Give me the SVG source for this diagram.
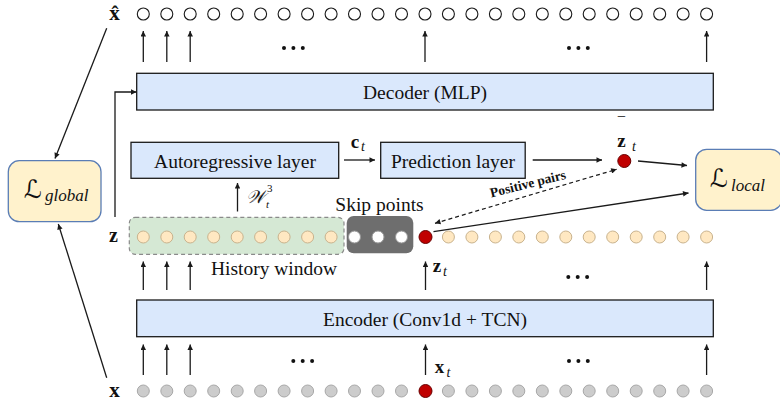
<svg xmlns="http://www.w3.org/2000/svg" width="780" height="404" viewBox="0 0 780 404" font-family="'Liberation Serif', 'Times New Roman', serif">
  <style>
    text { font-family: 'Liberation Serif', 'Times New Roman', serif; fill: #111; }
    .big { font-size: 19.5px; }
    .math { font-weight: bold; }
    .sub { font-style: italic; }
    text.cal { font-family: 'DejaVu Serif', 'DejaVu Sans', serif; font-style: italic; }
    .layer { fill: #dae8fc; stroke: #1a1a1a; stroke-width: 1.3; }
    .loss { fill: #fff2cc; stroke: #5a7db5; stroke-width: 1.3; }
    .out { fill: #ffffff; stroke: #1a1a1a; stroke-width: 1.1; }
    .lat { fill: #ffe8c2; stroke: #c9b38e; stroke-width: 1; }
    .inp { fill: #cccccc; stroke: #a8a8a8; stroke-width: 1; }
    .skip { fill: #ffffff; stroke: #999; stroke-width: 1; }
    .hot { fill: #c00000; stroke: #6a0000; stroke-width: 1; }
    .arr { stroke: #1a1a1a; stroke-width: 1.3; fill: none; marker-end: url(#ah); }
    .dot { fill: #111; }
  </style>
  <defs>
    <marker id="ah" viewBox="0 0 10 10" refX="10" refY="5" markerWidth="7" markerHeight="5.5" orient="auto-start-reverse" markerUnits="userSpaceOnUse">
      <path d="M0,0 L10,5 L0,10 z" fill="#1a1a1a"/>
    </marker>
  </defs>

  <!-- reconstructed output row x-hat -->
  <g id="row-xhat">
    <text class="math" x="114.5" y="20" font-size="21" text-anchor="middle">x̂</text>
    <g class="out">
      <circle cx="143.3" cy="14" r="6"/><circle cx="166.8" cy="14" r="6"/><circle cx="190.2" cy="14" r="6"/>
      <circle cx="213.7" cy="14" r="6"/><circle cx="237.2" cy="14" r="6"/><circle cx="260.6" cy="14" r="6"/>
      <circle cx="284.1" cy="14" r="6"/><circle cx="307.6" cy="14" r="6"/><circle cx="331.1" cy="14" r="6"/>
      <circle cx="354.5" cy="14" r="6"/><circle cx="378.0" cy="14" r="6"/><circle cx="401.5" cy="14" r="6"/>
      <circle cx="425.0" cy="14" r="6"/><circle cx="448.4" cy="14" r="6"/><circle cx="471.9" cy="14" r="6"/>
      <circle cx="495.4" cy="14" r="6"/><circle cx="518.8" cy="14" r="6"/><circle cx="542.3" cy="14" r="6"/>
      <circle cx="565.8" cy="14" r="6"/><circle cx="589.2" cy="14" r="6"/><circle cx="612.7" cy="14" r="6"/>
      <circle cx="636.2" cy="14" r="6"/><circle cx="659.7" cy="14" r="6"/><circle cx="683.1" cy="14" r="6"/>
      <circle cx="706.6" cy="14" r="6"/>
    </g>
    <circle class="dot" cx="284" cy="48" r="2"/><circle class="dot" cx="293.4" cy="48" r="2"/><circle class="dot" cx="302.8" cy="48" r="2"/>
    <circle class="dot" cx="569" cy="48" r="2"/><circle class="dot" cx="578.4" cy="48" r="2"/><circle class="dot" cx="587.8" cy="48" r="2"/>
  </g>

  <!-- decoder -->
  <g id="decoder">
    <rect class="layer" x="136.7" y="73.3" width="576.6" height="36.7"/>
    <text class="big" x="425" y="99" text-anchor="middle">Decoder (MLP)</text>
  </g>

  <!-- autoregressive layer -->
  <g id="autoregressive">
    <rect class="layer" x="131" y="142.3" width="207.7" height="36"/>
    <text class="big" x="235" y="167.5" text-anchor="middle">Autoregressive layer</text>
  </g>

  <!-- prediction layer -->
  <g id="prediction">
    <rect class="layer" x="380.7" y="142.3" width="144.5" height="36"/>
    <text class="big" x="453" y="167.5" text-anchor="middle">Prediction layer</text>
  </g>

  <!-- predicted latent z-bar_t -->
  <g id="zbar">
    <circle class="hot" cx="624.3" cy="161" r="6.5"/>
    <text class="math" x="621.5" y="147" font-size="19" text-anchor="middle">z</text>
    <text class="math" x="621.5" y="131" font-size="19" text-anchor="middle">‾</text>
    <text class="sub" x="632" y="150.5" font-size="14">t</text>
  </g>

  <!-- global loss -->
  <g id="loss-global">
    <rect class="loss" x="8.3" y="160.7" width="92.7" height="61" rx="11"/>
    <text class="cal" x="24" y="198" font-size="25">ℒ</text>
    <text class="sub" x="45" y="201" font-size="17">global</text>
  </g>

  <!-- local loss -->
  <g id="loss-local">
    <rect class="loss" x="695.7" y="149.3" width="86" height="61" rx="11"/>
    <text class="cal" x="710" y="187" font-size="25">ℒ</text>
    <text class="sub" x="731" y="191" font-size="17">local</text>
  </g>

  <!-- latent row z -->
  <g id="row-z">
    <text class="math" x="113.5" y="242" font-size="20" text-anchor="middle">z</text>
    <rect x="129.3" y="217.3" width="214.7" height="37" rx="6" fill="#d5e8d4" stroke="#8a8a8a" stroke-width="1.2" stroke-dasharray="4 3"/>
    <rect x="346.7" y="216" width="66.6" height="37.3" rx="7" fill="#6e6e6e"/>
    <g class="lat">
      <circle cx="143.3" cy="237" r="6"/><circle cx="166.8" cy="237" r="6"/><circle cx="190.2" cy="237" r="6"/>
      <circle cx="213.7" cy="237" r="6"/><circle cx="237.2" cy="237" r="6"/><circle cx="260.6" cy="237" r="6"/>
      <circle cx="284.1" cy="237" r="6"/><circle cx="307.6" cy="237" r="6"/><circle cx="331.1" cy="237" r="6"/>
      <circle cx="448.4" cy="237" r="6"/><circle cx="471.9" cy="237" r="6"/><circle cx="495.4" cy="237" r="6"/>
      <circle cx="518.8" cy="237" r="6"/><circle cx="542.3" cy="237" r="6"/><circle cx="565.8" cy="237" r="6"/>
      <circle cx="589.2" cy="237" r="6"/><circle cx="612.7" cy="237" r="6"/><circle cx="636.2" cy="237" r="6"/>
      <circle cx="659.7" cy="237" r="6"/><circle cx="683.1" cy="237" r="6"/><circle cx="706.6" cy="237" r="6"/>
    </g>
    <g class="skip">
      <circle cx="354.5" cy="237" r="6"/><circle cx="378.0" cy="237" r="6"/><circle cx="401.5" cy="237" r="6"/>
    </g>
    <circle class="hot" cx="425.5" cy="237" r="6.5"/>
    <text class="big" x="379.5" y="210.5" text-anchor="middle">Skip points</text>
    <text class="big" x="274" y="274.5" text-anchor="middle">History window</text>
    <text class="math" x="437" y="272" font-size="19" text-anchor="middle">z</text>
    <text class="sub" x="443" y="275.5" font-size="14">t</text>
    <circle class="dot" cx="568.3" cy="277" r="2"/><circle class="dot" cx="577.7" cy="277" r="2"/><circle class="dot" cx="587.1" cy="277" r="2"/>
  </g>

  <!-- encoder -->
  <g id="encoder">
    <rect class="layer" x="136.7" y="300" width="576.6" height="36.7"/>
    <text class="big" x="425" y="325.5" text-anchor="middle">Encoder (Conv1d + TCN)</text>
  </g>

  <!-- input row x -->
  <g id="row-x">
    <text class="math" x="114.5" y="397" font-size="21" text-anchor="middle">x</text>
    <g class="inp">
      <circle cx="143.3" cy="391" r="6"/><circle cx="166.8" cy="391" r="6"/><circle cx="190.2" cy="391" r="6"/>
      <circle cx="213.7" cy="391" r="6"/><circle cx="237.2" cy="391" r="6"/><circle cx="260.6" cy="391" r="6"/>
      <circle cx="284.1" cy="391" r="6"/><circle cx="307.6" cy="391" r="6"/><circle cx="331.1" cy="391" r="6"/>
      <circle cx="354.5" cy="391" r="6"/><circle cx="378.0" cy="391" r="6"/><circle cx="401.5" cy="391" r="6"/>
      <circle cx="448.4" cy="391" r="6"/><circle cx="471.9" cy="391" r="6"/>
      <circle cx="495.4" cy="391" r="6"/><circle cx="518.8" cy="391" r="6"/><circle cx="542.3" cy="391" r="6"/>
      <circle cx="565.8" cy="391" r="6"/><circle cx="589.2" cy="391" r="6"/><circle cx="612.7" cy="391" r="6"/>
      <circle cx="636.2" cy="391" r="6"/><circle cx="659.7" cy="391" r="6"/><circle cx="683.1" cy="391" r="6"/>
      <circle cx="706.6" cy="391" r="6"/>
    </g>
    <circle class="hot" cx="425.5" cy="391" r="6.5"/>
    <text class="math" x="439.5" y="373" font-size="19" text-anchor="middle">x</text>
    <text class="sub" x="446.5" y="376.5" font-size="14">t</text>
    <circle class="dot" cx="293.3" cy="361" r="2"/><circle class="dot" cx="302.7" cy="361" r="2"/><circle class="dot" cx="312.1" cy="361" r="2"/>
    <circle class="dot" cx="569" cy="361" r="2"/><circle class="dot" cx="578.4" cy="361" r="2"/><circle class="dot" cx="587.8" cy="361" r="2"/>
  </g>

  <!-- connectors -->
  <g id="connectors">
    <!-- decoder to x-hat -->
    <line class="arr" x1="143.3" y1="62" x2="143.3" y2="31"/>
    <line class="arr" x1="166.8" y1="62" x2="166.8" y2="31"/>
    <line class="arr" x1="190.2" y1="62" x2="190.2" y2="31"/>
    <line class="arr" x1="425" y1="62" x2="425" y2="31"/>
    <line class="arr" x1="706.6" y1="62" x2="706.6" y2="31"/>
    <!-- encoder to z -->
    <line class="arr" x1="143.3" y1="290" x2="143.3" y2="261.5"/>
    <line class="arr" x1="166.8" y1="290" x2="166.8" y2="261.5"/>
    <line class="arr" x1="190.2" y1="290" x2="190.2" y2="261.5"/>
    <line class="arr" x1="425.5" y1="290" x2="425.5" y2="261.5"/>
    <line class="arr" x1="706.6" y1="290" x2="706.6" y2="261.5"/>
    <!-- x to encoder -->
    <line class="arr" x1="143.3" y1="375" x2="143.3" y2="344.5"/>
    <line class="arr" x1="166.8" y1="375" x2="166.8" y2="344.5"/>
    <line class="arr" x1="190.2" y1="375" x2="190.2" y2="344.5"/>
    <line class="arr" x1="425.5" y1="375" x2="425.5" y2="344.5"/>
    <line class="arr" x1="706.6" y1="375" x2="706.6" y2="344.5"/>
    <!-- z into decoder -->
    <polyline class="arr" points="115,217 115,92 136.5,92"/>
    <!-- history window into autoregressive layer -->
    <line class="arr" x1="237.5" y1="211.5" x2="237.5" y2="183"/>
    <text class="cal" x="246" y="203" font-size="18">𝒲</text>
    <text class="sub" x="266" y="208" font-size="11">t</text>
    <text x="267" y="192" font-size="11">3</text>
    <!-- c_t -->
    <line class="arr" x1="344" y1="160" x2="375" y2="160"/>
    <text class="math" x="355" y="147.5" font-size="19" text-anchor="middle">c</text>
    <text class="sub" x="361" y="151" font-size="14">t</text>
    <!-- prediction to z-bar -->
    <line class="arr" x1="532.7" y1="160" x2="602" y2="160"/>
    <!-- z-bar to local loss -->
    <line class="arr" x1="638" y1="161" x2="687" y2="165.5"/>
    <!-- z_t to local loss -->
    <line class="arr" x1="433.5" y1="231.7" x2="688.5" y2="193"/>
    <!-- positive pairs -->
    <line x1="435" y1="223.3" x2="616.7" y2="169.3" stroke="#1a1a1a" stroke-width="1.2" stroke-dasharray="4 3" marker-start="url(#ah)" marker-end="url(#ah)"/>
    <text x="529" y="188" font-size="13.5" font-weight="bold" text-anchor="middle" transform="rotate(-14 529 188)">Positive pairs</text>
    <!-- x-hat and x to global loss -->
    <line class="arr" x1="106.7" y1="28.3" x2="55" y2="158.5"/>
    <line class="arr" x1="106.7" y1="377.7" x2="58.3" y2="224"/>
  </g>
</svg>
